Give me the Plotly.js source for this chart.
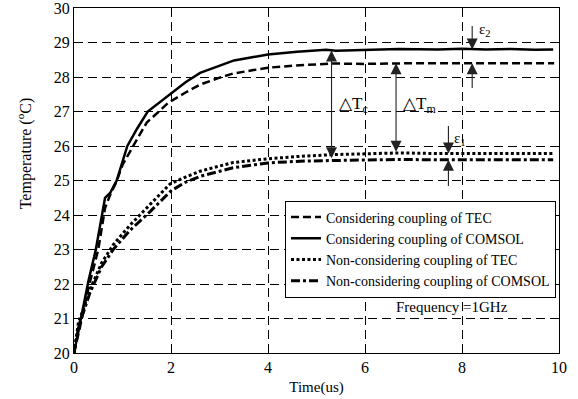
<!DOCTYPE html>
<html>
<head>
<meta charset="utf-8">
<script src="https://cdn.plot.ly/plotly-3.0.1.min.js"></script>
<style>html,body{margin:0;padding:0;background:#fff;}#chart{width:578px;height:399px;}</style>
</head>
<body>
<div id="chart"></div>
<script>
// Considering coupling of COMSOL (solid)
const xComsolC = [0, 0.1, 0.3, 0.45, 0.64, 0.75, 0.88, 1.1, 1.3, 1.52, 1.75, 2.0, 2.3, 2.6, 3.0, 3.3, 3.7, 4.0, 4.6, 5.0, 5.2, 5.4, 6.0, 6.7, 7.5, 8.0, 8.5, 9.0, 9.5, 9.88];
const yComsolC = [20, 20.7, 22.1, 23.0, 24.5, 24.65, 25.0, 26.0, 26.5, 27.0, 27.25, 27.5, 27.85, 28.12, 28.33, 28.48, 28.58, 28.65, 28.73, 28.76, 28.79, 28.76, 28.79, 28.81, 28.8, 28.82, 28.8, 28.81, 28.79, 28.8];
// Considering coupling of TEC (dashed)
const xTecC = [0, 0.1, 0.3, 0.5, 0.64, 0.75, 0.88, 1.0, 1.22, 1.5, 1.75, 1.94, 2.3, 2.6, 3.0, 3.28, 3.7, 4.0, 4.66, 5.35, 6.0, 6.3, 7.0, 8.0, 9.0, 9.9];
const yTecC = [20, 20.6, 21.9, 23.0, 24.2, 24.6, 24.98, 25.45, 26.0, 26.68, 27.0, 27.25, 27.55, 27.78, 27.98, 28.1, 28.2, 28.27, 28.34, 28.39, 28.38, 28.39, 28.4, 28.4, 28.4, 28.4];
// Non-considering coupling of TEC (dotted)
const xTecN = [0, 0.05, 0.09, 0.2, 0.33, 0.57, 0.81, 1.15, 1.57, 1.98, 2.3, 2.6, 3.0, 3.28, 4.0, 4.66, 5.35, 6.0, 6.72, 7.5, 8.5, 9.88];
const yTecN = [20, 20.5, 20.87, 21.3, 21.84, 22.61, 23.14, 23.7, 24.3, 24.9, 25.1, 25.27, 25.42, 25.52, 25.63, 25.7, 25.75, 25.77, 25.8, 25.78, 25.78, 25.78];
// Non-considering coupling of COMSOL (dash-dot)
const xComsolN = [0, 0.05, 0.1, 0.2, 0.33, 0.57, 0.81, 1.15, 1.57, 2.0, 2.3, 2.6, 3.0, 3.28, 4.0, 4.66, 5.35, 6.0, 6.72, 7.5, 8.5, 9.88];
const yComsolN = [20, 20.4, 20.8, 21.2, 21.75, 22.5, 23.0, 23.55, 24.1, 24.7, 24.95, 25.12, 25.28, 25.37, 25.51, 25.56, 25.58, 25.59, 25.61, 25.6, 25.6, 25.6];

const names = ['Considering coupling of TEC', 'Considering coupling of COMSOL', 'Non-considering coupling of TEC', 'Non-considering coupling of COMSOL'];
const xTicks = [0, 2, 4, 6, 8, 10];
const yTicks = [20, 21, 22, 23, 24, 25, 26, 27, 28, 29, 30];

const F = '"Liberation Serif", "Times New Roman", Times, serif';

const traces = [
  {x: xTecC, y: yTecC, name: names[0], mode: 'lines', line: {color: '#000', width: 2.5, dash: '8px,4px'}},
  {x: xComsolC, y: yComsolC, name: names[1], mode: 'lines', line: {color: '#000', width: 2.5}},
  {x: xTecN, y: yTecN, name: names[2], mode: 'lines', line: {color: '#000', width: 3, dash: '3px,2.5px'}},
  {x: xComsolN, y: yComsolN, name: names[3], mode: 'lines', line: {color: '#000', width: 3, dash: '9px,3px,3px,3px'}}
];

function arrow(x, y, ax, ay, both) {
  return {x: x, y: y, ax: ax, ay: ay, xref: 'x', yref: 'y', axref: 'x', ayref: 'y',
    text: '', showarrow: true, arrowhead: 2, startarrowhead: 2, arrowsize: 2, startarrowsize: 2,
    arrowwidth: 1.1, arrowcolor: '#222', arrowside: both ? 'end+start' : 'end', standoff: 0, startstandoff: 0};
}

const annotations = [
  arrow(5.31, 28.77, 5.31, 25.6, true),
  arrow(6.64, 28.4, 6.64, 25.79, true),
  arrow(8.21, 28.8, 8.21, 29.52, false),
  arrow(8.21, 28.4, 8.21, 27.64, false),
  arrow(7.72, 25.78, 7.72, 26.62, false),
  arrow(7.72, 25.6, 7.72, 24.8, false),
  {x: 5.42, y: 27.2, xref: 'x', yref: 'y', xanchor: 'left', yanchor: 'middle', showarrow: false,
   text: '△T<sub>c</sub>', font: {family: F, size: 17, color: '#000'}},
  {x: 6.75, y: 27.2, xref: 'x', yref: 'y', xanchor: 'left', yanchor: 'middle', showarrow: false,
   text: '△T<sub>m</sub>', font: {family: F, size: 17, color: '#000'}},
  {x: 8.3, y: 29.35, xref: 'x', yref: 'y', xanchor: 'left', yanchor: 'middle', showarrow: false,
   text: 'ε<sub>2</sub>', font: {family: F, size: 15, color: '#000'}},
  {x: 7.8, y: 26.2, xref: 'x', yref: 'y', xanchor: 'left', yanchor: 'middle', showarrow: false,
   text: 'ε<sub>1</sub>', font: {family: F, size: 15, color: '#000'}},
  {x: 7.8, y: 21.32, xref: 'x', yref: 'y', xanchor: 'center', yanchor: 'middle', showarrow: false,
   text: 'Frequency =1GHz', font: {family: F, size: 15, color: '#000'}},
  {x: -0.103, y: 0.579, xref: 'paper', yref: 'paper', xanchor: 'center', yanchor: 'middle', showarrow: false,
   textangle: -90, text: 'Temperature (<sup>o</sup>C)', font: {family: F, size: 16, color: '#000'}}
];

const layout = {
  width: 578, height: 399,
  margin: {l: 74, r: 19, t: 8, b: 45.5},
  paper_bgcolor: '#fff', plot_bgcolor: '#fff',
  font: {family: F, size: 14, color: '#000'},
  showlegend: true,
  legend: {x: 0.435, y: 0.442, xanchor: 'left', yanchor: 'top', bgcolor: '#fff',
    bordercolor: '#000', borderwidth: 1, font: {family: F, size: 14, color: '#000'},
    tracegroupgap: 0, itemwidth: 30},
  xaxis: {range: [0, 10], tickvals: xTicks, ticktext: xTicks.map(String),
    showgrid: true, gridcolor: '#000', gridwidth: 1, griddash: '9px,5px',
    showline: true, linecolor: '#000', linewidth: 1, mirror: true,
    ticks: 'inside', ticklen: 5, tickcolor: '#000', zeroline: false, ticklabeloverflow: 'allow',
    tickfont: {family: F, size: 16, color: '#000'},
    title: {text: 'Time(us)', font: {family: F, size: 15, color: '#000'}, standoff: 6}},
  yaxis: {range: [20, 30], tickvals: yTicks, ticktext: yTicks.map(String),
    showgrid: true, gridcolor: '#000', gridwidth: 1, griddash: '9px,5px',
    showline: true, linecolor: '#000', linewidth: 1, mirror: true,
    ticks: 'inside', ticklen: 5, tickcolor: '#000', zeroline: false, ticklabeloverflow: 'allow',
    tickfont: {family: F, size: 16, color: '#000'}},
  annotations: annotations
};

Plotly.newPlot('chart', traces, layout, {staticPlot: true, displayModeBar: false});
</script>
</body>
</html>
